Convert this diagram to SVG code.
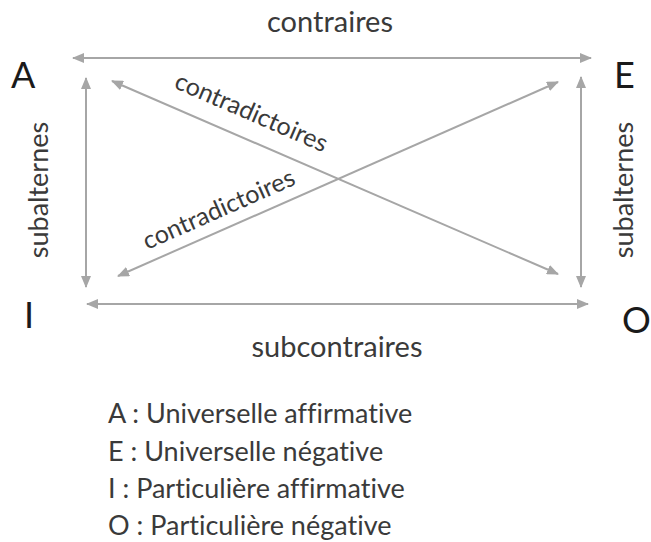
<svg xmlns="http://www.w3.org/2000/svg" width="651" height="542" viewBox="0 0 651 542">
<style>
.ln{stroke:#a6a6a6;stroke-width:2;fill:none;marker-start:url(#ah);marker-end:url(#ah)}
.lbl{font-family:Lato,"Liberation Sans",sans-serif;fill:#3a3a3a;font-size:29px}
.sub{font-size:27px}
.cd{font-size:25px}
.big{font-family:Lato,"Liberation Sans",sans-serif;fill:#1a1a1a;font-size:36px}
.leg{font-family:Lato,"Liberation Sans",sans-serif;fill:#3a3a3a;font-size:27px;font-variant-ligatures:none}
</style>
<defs>
<marker id="ah" viewBox="0 0 12 10" refX="11" refY="5" markerWidth="12" markerHeight="10" markerUnits="userSpaceOnUse" orient="auto-start-reverse">
<path d="M0,0 L12,5 L0,10 z" fill="#a6a6a6"/>
</marker>
</defs>
<rect width="651" height="542" fill="#ffffff"/>
<g id="connectors">
<line class="ln" x1="73" y1="58" x2="591" y2="58"/>
<line class="ln" x1="86" y1="78" x2="86" y2="287"/>
<line class="ln" x1="581" y1="77" x2="581" y2="287"/>
<line class="ln" x1="112" y1="81" x2="558" y2="274"/>
<line class="ln" x1="118" y1="276" x2="558" y2="82"/>
<line class="ln" x1="87" y1="304" x2="588" y2="304"/>
<text class="lbl" x="330" y="32" text-anchor="middle">contraires</text>
<text class="lbl" x="337" y="357" text-anchor="middle">subcontraires</text>
<text class="lbl sub" transform="translate(48,190) rotate(-90)" text-anchor="middle">subalternes</text>
<text class="lbl sub" transform="translate(633,190) rotate(-90)" text-anchor="middle">subalternes</text>
<text class="lbl cd" transform="translate(248,120) rotate(23.4)" text-anchor="middle">contradictoires</text>
<text class="lbl cd" transform="translate(222,217) rotate(-23.8)" text-anchor="middle">contradictoires</text>
</g>
<g id="A"><text class="big" x="11" y="88">A</text></g>
<g id="E"><text class="big" x="614" y="88">E</text></g>
<g id="I"><text class="big" x="24" y="328">I</text></g>
<g id="O"><text class="big" x="622" y="333">O</text></g>
<g id="legend">
<text class="leg" x="108" y="423">A : Universelle affirmative</text>
<text class="leg" x="108" y="461">E : Universelle négative</text>
<text class="leg" x="108" y="498">I : Particulière affirmative</text>
<text class="leg" x="108" y="535">O : Particulière négative</text>
</g>
</svg>
